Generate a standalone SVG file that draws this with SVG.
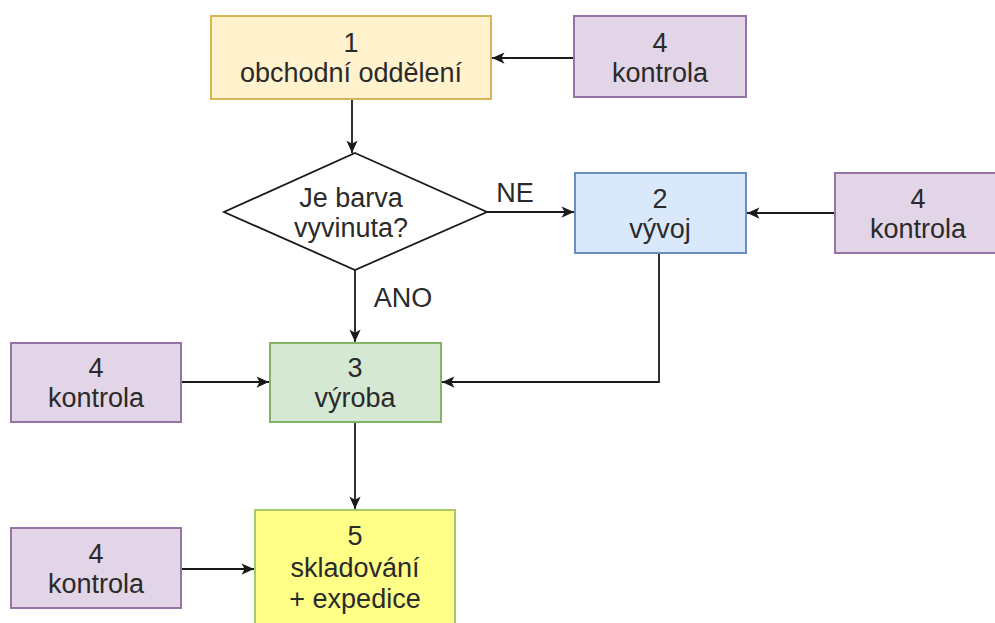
<svg xmlns="http://www.w3.org/2000/svg" width="995" height="623" viewBox="0 0 995 623">
<style>
text{font-family:"Liberation Sans",Arial,sans-serif;font-size:27px;fill:#2a2a2a;text-anchor:middle}
.c{fill:none;stroke:#1a1a1a;stroke-width:1.8}
.k rect{fill:#e1d5e7;stroke:#9673a6;stroke-width:2}
</style>
<defs>
<marker id="a" viewBox="0 0 12 12" refX="11" refY="6" markerWidth="15" markerHeight="15" markerUnits="userSpaceOnUse" orient="auto">
<path d="M1,1.5 L11,6 L1,10.5 L3.5,6 z" fill="#1a1a1a"/>
</marker>
</defs>
<rect width="995" height="623" fill="#fff"/>
<g id="connectors">
<path class="c" d="M352,99 V153" marker-end="url(#a)"/>
<path class="c" d="M574,58 H492" marker-end="url(#a)"/>
<path class="c" d="M487,212 H574" marker-end="url(#a)"/>
<text x="515" y="202">NE</text>
<path class="c" d="M835,213 H747" marker-end="url(#a)"/>
<path class="c" d="M355,270 V342" marker-end="url(#a)"/>
<text x="403" y="307">ANO</text>
<path class="c" d="M659,253 V382 H442" marker-end="url(#a)"/>
<path class="c" d="M182,382 H269" marker-end="url(#a)"/>
<path class="c" d="M355,422 V509" marker-end="url(#a)"/>
<path class="c" d="M182,569 H254" marker-end="url(#a)"/>
</g>
<g id="n1">
<rect x="211" y="16" width="280" height="83" fill="#fff2cc" stroke="#d6b656" stroke-width="2"/>
<text x="351" y="52">1</text>
<text x="351" y="82">obchodní oddělení</text>
</g>
<g id="k1" class="k">
<rect x="574" y="16" width="172" height="81"/>
<text x="660" y="52">4</text>
<text x="660" y="82">kontrola</text>
</g>
<g id="d1">
<polygon points="355,153 487,212 355,270 224,212" fill="#fff" stroke="#1a1a1a" stroke-width="1.8"/>
<text x="351" y="207">Je barva</text>
<text x="351" y="237">vyvinuta?</text>
</g>
<g id="n2">
<rect x="575" y="173" width="171" height="80" fill="#dae8fc" stroke="#6c8ebf" stroke-width="2"/>
<text x="660" y="208">2</text>
<text x="660" y="238">vývoj</text>
</g>
<g id="k2" class="k">
<rect x="835" y="173" width="170" height="80"/>
<text x="918" y="208">4</text>
<text x="918" y="238">kontrola</text>
</g>
<g id="n3">
<rect x="270" y="343" width="171" height="79" fill="#d5e8d4" stroke="#82b366" stroke-width="2"/>
<text x="355" y="377">3</text>
<text x="355" y="407">výroba</text>
</g>
<g id="k3" class="k">
<rect x="11" y="343" width="170" height="79"/>
<text x="96" y="377">4</text>
<text x="96" y="407">kontrola</text>
</g>
<g id="n5">
<rect x="255" y="510" width="200" height="116" fill="#ffff88" stroke="#a8c96b" stroke-width="2"/>
<text x="355" y="545">5</text>
<text x="355" y="577">skladování</text>
<text x="355" y="608">+ expedice</text>
</g>
<g id="k4" class="k">
<rect x="11" y="528" width="170" height="80"/>
<text x="96" y="563">4</text>
<text x="96" y="593">kontrola</text>
</g>
</svg>
